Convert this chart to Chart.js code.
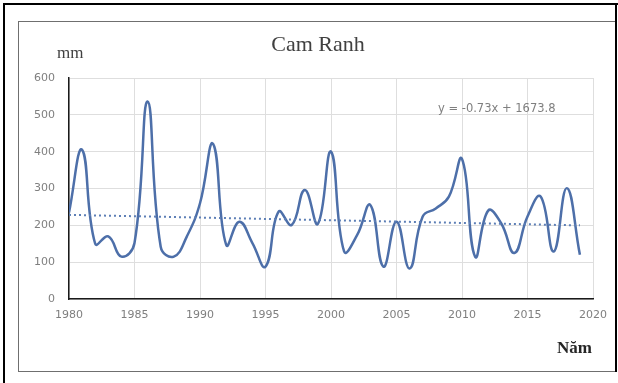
<!DOCTYPE html>
<html>
<head>
<meta charset="utf-8">
<script src="https://cdn.jsdelivr.net/npm/chart.js@4.4.1/dist/chart.umd.min.js"></script>
<style>
  body { margin: 0; background: #fff; }
  #wrap { position: relative; width: 618px; height: 383px; overflow: hidden; }
  .bl { position: absolute; background: #000; }
  #frame { position: absolute; left: 18px; top: 21px; width: 596px; height: 349px; border: 1.5px solid #6f6f6f; }
  canvas { position: absolute; left: 0; top: 0; }
</style>
</head>
<body>
<div id="wrap">
  <div id="frame"></div>
  <div class="bl" style="left:3px;top:3px;width:615px;height:2px"></div>
  <div class="bl" style="left:3px;top:3px;width:2px;height:380px"></div>
  <div class="bl" style="left:615px;top:3px;width:2px;height:369px"></div>
  <canvas id="myChart" width="618" height="383"></canvas>
</div>
<script>
// luong mua Cam Ranh 1980-2019 (mm)
const years = [1980, 1981, 1982, 1983, 1984, 1985, 1986, 1987, 1988, 1989,
               1990, 1991, 1992, 1993, 1994, 1995, 1996, 1997, 1998, 1999,
               2000, 2001, 2002, 2003, 2004, 2005, 2006, 2007, 2008, 2009,
               2010, 2011, 2012, 2013, 2014, 2015, 2016, 2017, 2018, 2019]
const rainfall = [235, 405, 150, 170, 115, 152, 536, 142, 115, 170,
                  260, 421, 147, 210, 152, 88, 237, 201, 296, 204,
                  400, 129, 174, 255, 88, 210, 83, 224, 246, 278,
                  380, 115, 240, 205, 125, 224, 278, 129, 301, 120]

// duong xu the (doc tu hinh)
const trendYears = [1980, 2019]
const trendValues = [228.4, 199.9]

const chartTitle = 'Cam Ranh'
const yUnit = 'mm'
const xUnit = 'Năm'
const equation = 'y = -0.73x + 1673.8'

const tickColor = '#7f7f7f'
const gridColor = '#dedede'

const textPlugin = {
    id: 'texts',
    afterDraw(chart) {
        const ctx = chart.ctx
        ctx.save()
        ctx.textBaseline = 'middle'
        ctx.textAlign = 'center'
        ctx.fillStyle = '#404040'
        ctx.font = '22px "Liberation Serif"'
        ctx.fillText(chartTitle, 318, 45)

        ctx.textAlign = 'left'
        ctx.font = '17px "Liberation Serif"'
        ctx.fillText(yUnit, 57, 54)

        ctx.fillStyle = '#262626'
        ctx.font = 'bold 17px "Liberation Serif"'
        ctx.fillText(xUnit, 557, 349)

        ctx.fillStyle = tickColor
        ctx.font = '11.5px "DejaVu Sans"'
        ctx.fillText(equation, 438, 109)
        ctx.restore()
    }
}

const ctx = document.querySelector('#myChart')
new Chart(ctx, {
    type: 'line',
    data: {
        datasets: [
            {
                label: 'Xu thế',
                data: trendYears.map((x, i) => ({ x: x, y: trendValues[i] })),
                borderColor: '#5d7fb6',
                borderWidth: 2,
                borderDash: [2, 3],
                pointRadius: 0,
                tension: 0,
            },
            {
                label: 'Lượng mưa',
                data: years.map((x, i) => ({ x: x, y: rainfall[i] })),
                borderColor: '#4d6fa9',
                borderWidth: 2.5,
                pointRadius: 0,
                tension: 0.45,
            },
        ],
    },
    options: {
        responsive: false,
        animation: false,
        events: [],
        layout: { padding: { left: 18, top: 78, right: 25, bottom: 64 } },
        plugins: {
            legend: { display: false },
            tooltip: { enabled: false },
        },
        scales: {
            x: {
                type: 'linear',
                min: 1980,
                max: 2020,
                afterFit: (scale) => { scale.height = 20 },
                ticks: {
                    stepSize: 5,
                    padding: 10,
                    color: tickColor,
                    font: { family: 'DejaVu Sans', size: 11 },
                    callback: (v) => String(v),
                },
                grid: { color: gridColor, drawTicks: false },
                border: { color: '#1a1a1a', width: 1.5 },
            },
            y: {
                min: 0,
                max: 600,
                afterFit: (scale) => { scale.width = 51 },
                ticks: {
                    stepSize: 100,
                    padding: 14,
                    color: tickColor,
                    font: { family: 'DejaVu Sans', size: 11 },
                },
                grid: { color: gridColor, drawTicks: false },
                border: { color: '#1a1a1a', width: 1.5 },
            },
        },
    },
    plugins: [textPlugin],
})
</script>
</body>
</html>
